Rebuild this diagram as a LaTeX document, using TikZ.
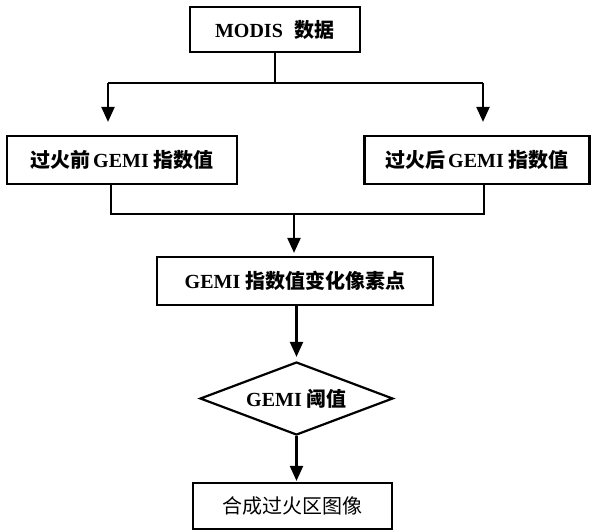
\documentclass[tikz,border=0pt]{standalone}
\usepackage{fontspec}
\setmainfont{Liberation Serif}
\newfontfamily\cjk{Noto Sans CJK SC}
\usetikzlibrary{shapes.geometric,arrows.meta,calc}
\newcommand{\zh}[1]{{\cjk #1}}
\tikzset{
  box/.style={draw, line width=2.2pt, inner sep=0pt, align=center,
    font=\fontsize{20}{22}\selectfont\bfseries},
  link/.style={line width=2.2pt},
  arr/.style={line width=2.2pt, -{Triangle[width=13pt,length=15pt]}},
}
\begin{document}
\begin{tikzpicture}[x=1pt,y=-1pt]
\useasboundingbox (0,0) rectangle (593,531);
\fill[white] (0,0) rectangle (593,531);
\node[box, minimum width=170pt, minimum height=45pt] (modis) at (275,29.5) {MODIS\hspace{0.6em}\zh{数据}};
\node[box, minimum width=230pt, minimum height=48pt] (pre) at (122,160) {\zh{过火前}\hspace{0.15em}GEMI \zh{指数值}};
\node[box, minimum width=225pt, minimum height=48pt] (post) at (477,160) {\zh{过火后}\hspace{0.15em}GEMI \zh{指数值}};
\node[box, minimum width=276pt, minimum height=48pt] (change) at (295,281) {GEMI \zh{指数值变化像素点}};
\node[box, shape=diamond, shape aspect=2.6, minimum width=193pt, minimum height=73pt] (thr) at (296.5,398.5) {GEMI \zh{阈值}};
\node[box, minimum width=199pt, minimum height=46pt, font=\fontsize{20}{22}\selectfont] (final) at (292.5,506) {\zh{合成过火区图像}};
% split
\coordinate (j1) at (modis.south |- 0,83);
\coordinate (l1) at (108,83);
\coordinate (r1) at (483,83);
\draw[link] (modis.south) -- (j1);
\draw[link] (l1) -- (r1);
\draw[arr, shorten >=13pt] (l1) -- (l1 |- pre.north);
\draw[arr, shorten >=13pt] (r1) -- (r1 |- post.north);
% merge
\coordinate (l2) at (111,214);
\coordinate (r2) at (484,214);
\coordinate (m2) at (294,214);
\draw[link] (l2 |- pre.south) -- (l2) -- (r2) -- (r2 |- post.south);
\draw[arr, shorten >=3pt] (m2) -- (m2 |- change.north);
\draw[arr, shorten >=4pt] (change.south -| thr.north) -- (thr.north);
\draw[arr, shorten >=1pt] (thr.south) -- (thr.south |- final.north);
\end{tikzpicture}
\end{document}
